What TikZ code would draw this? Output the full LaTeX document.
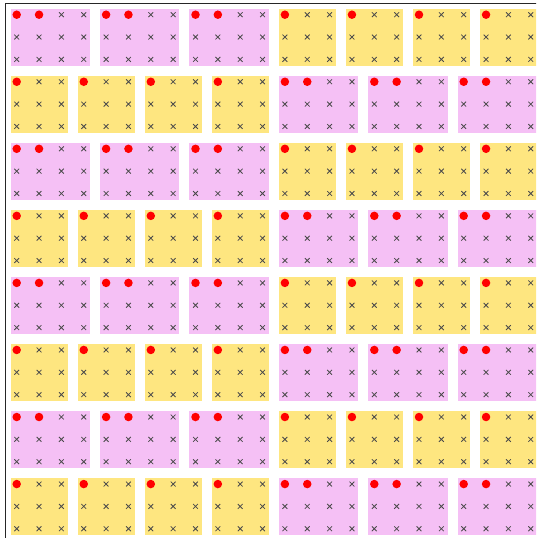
\documentclass[tikz,border=0pt]{standalone}
\usetikzlibrary{shapes.misc}
\definecolor{tilepink}{HTML}{F5C0F5}
\definecolor{tileyellow}{HTML}{FEE680}
\definecolor{markgray}{HTML}{4A4A4A}
\tikzset{
  pinktile/.style={fill=tilepink, draw=none},
  yellowtile/.style={fill=tileyellow, draw=none},
  reddot/.style={circle, fill=red, draw=none, inner sep=0pt, minimum size=8.5pt},
  crossmark/.style={cross out, draw=markgray, line width=0.8pt, inner sep=0pt, minimum size=4pt},
  axesframe/.style={draw=black!85, line width=1pt}
}

\begin{document}
\begin{tikzpicture}[x=1pt, y=-1pt]
  \useasboundingbox (0,0) rectangle (536,538);
  \clip (0,0) rectangle (536,538);
  \begin{scope}[shift={(16.7,14.7)}, x=22.35pt, y=-22.35pt]
    \draw[axesframe] (-0.523,-0.523) rectangle (23.523,23.523);
    % even rows: pink tiles left, yellow tiles right
    \foreach \r in {0,2,4,6} {
      \foreach \c in {0,4,8}
        \fill[pinktile] (\c-0.277,3*\r-0.277) rectangle (\c+3.277,3*\r+2.277);
      \foreach \c in {12,15,18,21}
        \fill[yellowtile] (\c-0.277,3*\r-0.277) rectangle (\c+2.277,3*\r+2.277);
    }
    % odd rows: yellow tiles left, pink tiles right
    \foreach \r in {1,3,5,7} {
      \foreach \c in {0,3,6,9}
        \fill[yellowtile] (\c-0.277,3*\r-0.277) rectangle (\c+2.277,3*\r+2.277);
      \foreach \c in {12,16,20}
        \fill[pinktile] (\c-0.277,3*\r-0.277) rectangle (\c+3.277,3*\r+2.277);
    }
    % crosses on every lattice point
    \foreach \i in {0,...,23}
      \foreach \j in {0,...,23}
        \node[crossmark] (m-\i-\j) at (\i,\j) {};
    % red dots on the first row of each tile
    \foreach \r in {0,2,4,6} {
      \foreach \c in {0,4,8} {
        \node[reddot] (p-\c-\r-a) at (\c,3*\r) {};
        \node[reddot] (p-\c-\r-b) at (\c+1,3*\r) {};
      }
      \foreach \c in {12,15,18,21}
        \node[reddot] (y-\c-\r) at (\c,3*\r) {};
    }
    \foreach \r in {1,3,5,7} {
      \foreach \c in {0,3,6,9}
        \node[reddot] (y-\c-\r) at (\c,3*\r) {};
      \foreach \c in {12,16,20} {
        \node[reddot] (p-\c-\r-a) at (\c,3*\r) {};
        \node[reddot] (p-\c-\r-b) at (\c+1,3*\r) {};
      }
    }
  \end{scope}
\end{tikzpicture}
\end{document}
